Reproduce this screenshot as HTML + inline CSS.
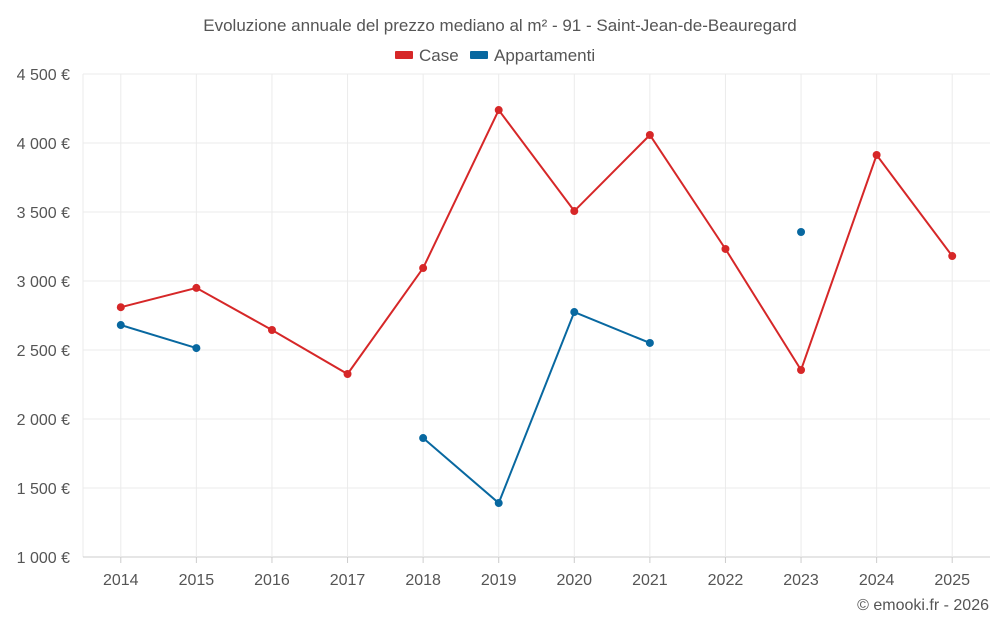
<!DOCTYPE html>
<html><head><meta charset="utf-8"><style>
html,body{margin:0;padding:0;background:#fff;width:1000px;height:625px;overflow:hidden;font-family:"Liberation Sans",sans-serif;}
</style></head><body>
<svg id="chart" width="1000" height="625" xmlns="http://www.w3.org/2000/svg">
<text x="500" y="31" text-anchor="middle" font-size="17" fill="#555">Evoluzione annuale del prezzo mediano al m² - 91 - Saint-Jean-de-Beauregard</text>
<g><rect x="395" y="51" width="18" height="8" fill="#d62728" rx="1"/><text x="419" y="61" font-size="17" fill="#555">Case</text></g>
<g><rect x="470" y="51" width="18" height="8" fill="#0868a0" rx="1"/><text x="494" y="61" font-size="17" fill="#555">Appartamenti</text></g>
<g id="grid"></g><g id="axes"></g><g id="series"></g>
<text x="989" y="610" text-anchor="end" font-size="16" fill="#555">© emooki.fr - 2026</text>
</svg>
<script>
const years=[2014,2015,2016,2017,2018,2019,2020,2021,2022,2023,2024,2025];
const caseValues=[2810,2950,2645,2326,3094,4239,3507,4058,3232,2355,3913,3181];
const apptValues=[2681,2514,null,null,1862,1391,2775,2551,null,3355,null,null];
const yTicks=[1000,1500,2000,2500,3000,3500,4000,4500];
const yTickLabels=["1 000 €","1 500 €","2 000 €","2 500 €","3 000 €","3 500 €","4 000 €","4 500 €"];
const NS="http://www.w3.org/2000/svg";
const L=83,R=990,T=74,B=557,ymin=1000,ymax=4500;
const step=(R-L)/years.length;
function x(i){return L+step*(i+0.5);}
function y(v){return B-(v-ymin)/(ymax-ymin)*(B-T);}
function mk(tag,attrs,parent){const e=document.createElementNS(NS,tag);for(const k in attrs)e.setAttribute(k,attrs[k]);parent.appendChild(e);return e;}
const grid=document.getElementById('grid'),axes=document.getElementById('axes'),series=document.getElementById('series');
const edge=mk('line',{x1:L,x2:L,y1:T,y2:B,stroke:'#ebebeb','stroke-width':1},grid);


yTicks.forEach((t,i)=>{
 const ln=mk('line',{x1:L,x2:R,y1:y(t),y2:y(t),stroke:i==0?'#ccc':'#ebebeb','stroke-width':1},grid);
 
 
 const tx=mk('text',{x:70,y:y(t)+6,'text-anchor':'end','font-size':16,fill:'#555'},axes);
 tx.textContent=yTickLabels[i];
 
 
});
years.forEach((yr,i)=>{
 const ln=mk('line',{x1:x(i),x2:x(i),y1:T,y2:B,stroke:'#ebebeb','stroke-width':1},grid);
 
 
 const tk=mk('line',{x1:x(i),x2:x(i),y1:B,y2:B+6,stroke:'#ccc'},axes);
 
 
 const tx=mk('text',{x:x(i),y:585,'text-anchor':'middle','font-size':16,fill:'#555'},axes);
 tx.textContent=yr;
 
 
});
function draw(vals,color,name){
 let segs=[],cur=[];
 vals.forEach((v,i)=>{if(v==null){if(cur.length)segs.push(cur);cur=[];}else cur.push([x(i),y(v)]);});
 if(cur.length)segs.push(cur);
 segs.forEach(s=>{if(s.length>1){
  const p=mk('polyline',{points:s.map(p=>p.join(',')).join(' '),fill:'none',stroke:color,'stroke-width':2},series);
  
  
 }});
 vals.forEach((v,i)=>{if(v==null)return;
  const c=mk('circle',{cx:x(i),cy:y(v),r:4,fill:color},series);
  
  
 });
}
draw(caseValues,'#d62728','case');
draw(apptValues,'#0868a0','appartamenti');
</script>
</body></html>
